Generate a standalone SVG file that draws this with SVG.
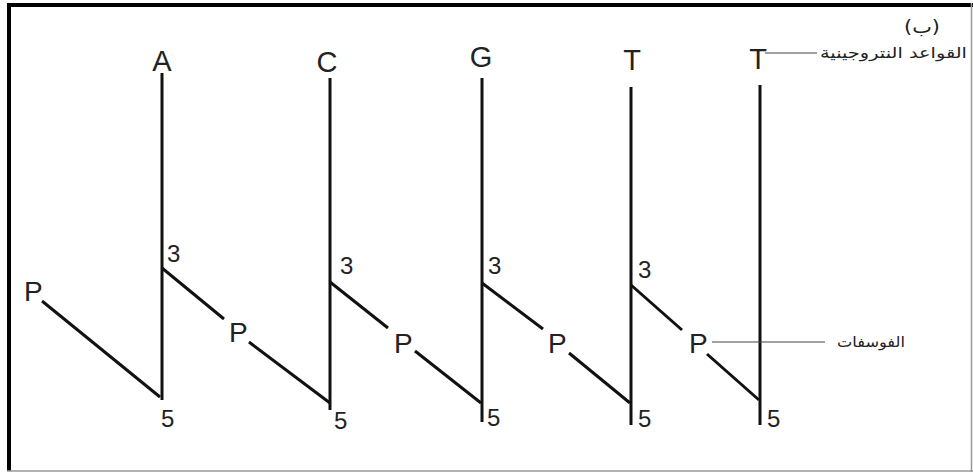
<svg xmlns="http://www.w3.org/2000/svg" width="973" height="474" viewBox="0 0 973 474">
<style>
.base{font-family:"Liberation Sans",Arial,sans-serif;font-size:29px;fill:#222;text-anchor:middle}
.p{font-family:"Liberation Sans",Arial,sans-serif;font-size:28px;fill:#222}
.num{font-family:"Liberation Sans",Arial,sans-serif;font-size:24px;fill:#222}
.ar{font-family:"DejaVu Sans","Noto Sans",sans-serif;font-size:15px;fill:#222;text-anchor:end}
.strand{stroke:#111;stroke-width:3;fill:none}
.bond{stroke:#111;stroke-width:3;fill:none}
.lead{stroke:#444;stroke-width:1.2;fill:none}
</style>
<rect x="0" y="0" width="973" height="474" fill="#fff"/>
<g id="frame">
<rect x="7" y="3" width="4" height="468" fill="#000"/>
<rect x="7" y="3" width="966" height="4" fill="#000"/>
<line x1="971.5" y1="3" x2="971.5" y2="472" stroke="#999" stroke-width="1.5"/>
<line x1="7" y1="471" x2="973" y2="471" stroke="#999" stroke-width="1.5"/>
</g>
<g id="nucleotide-A">
<line class="strand" x1="162" y1="73" x2="162" y2="400"/>
<text class="base" x="162" y="71">A</text>
<text class="num" x="167" y="262">3</text>
<text class="num" x="161" y="427">5</text>
</g>
<g id="nucleotide-C">
<line class="strand" x1="330" y1="78" x2="330" y2="410"/>
<text class="base" x="327" y="72">C</text>
<text class="num" x="340" y="274">3</text>
<text class="num" x="334" y="429">5</text>
</g>
<g id="nucleotide-G">
<line class="strand" x1="482" y1="78" x2="482" y2="422"/>
<text class="base" x="481" y="67">G</text>
<text class="num" x="488" y="274">3</text>
<text class="num" x="487" y="426">5</text>
</g>
<g id="nucleotide-T1">
<line class="strand" x1="631" y1="87" x2="631" y2="425"/>
<text class="base" x="632" y="70">T</text>
<text class="num" x="638" y="278">3</text>
<text class="num" x="638" y="427">5</text>
</g>
<g id="nucleotide-T2">
<line class="strand" x1="760" y1="85" x2="760" y2="425"/>
<text class="base" x="758" y="69">T</text>
<text class="num" x="767" y="427">5</text>
</g>
<g id="phosphate-1"><text class="p" x="24" y="301">P</text></g>
<g id="phosphate-2"><text class="p" x="229" y="342">P</text></g>
<g id="phosphate-3"><text class="p" x="394" y="353">P</text></g>
<g id="phosphate-4"><text class="p" x="548" y="353">P</text></g>
<g id="phosphate-5"><text class="p" x="689" y="353">P</text></g>
<g id="connectors">
<line class="bond" x1="42" y1="301" x2="160" y2="397"/>
<line class="bond" x1="162" y1="268" x2="224" y2="319"/>
<line class="bond" x1="249" y1="342" x2="330" y2="403"/>
<line class="bond" x1="330" y1="282" x2="388" y2="328"/>
<line class="bond" x1="415" y1="351" x2="481" y2="403"/>
<line class="bond" x1="482" y1="283" x2="543" y2="329"/>
<line class="bond" x1="569" y1="353" x2="630" y2="403"/>
<line class="bond" x1="631" y1="285" x2="682" y2="330"/>
<line class="bond" x1="707" y1="354" x2="759" y2="400"/>
<line class="lead" x1="765" y1="53" x2="817" y2="53"/>
<line class="lead" x1="712" y1="342" x2="825" y2="342"/>
</g>
<g id="labels">
<text class="ar" x="940" y="33" style="font-size:18px" textLength="36" lengthAdjust="spacingAndGlyphs">(ب)</text>
<text class="ar" x="967" y="58" textLength="147" lengthAdjust="spacingAndGlyphs">القواعد النتروجينية</text>
<text class="ar" x="905" y="347" textLength="68" lengthAdjust="spacingAndGlyphs">الفوسفات</text>
</g>
</svg>
